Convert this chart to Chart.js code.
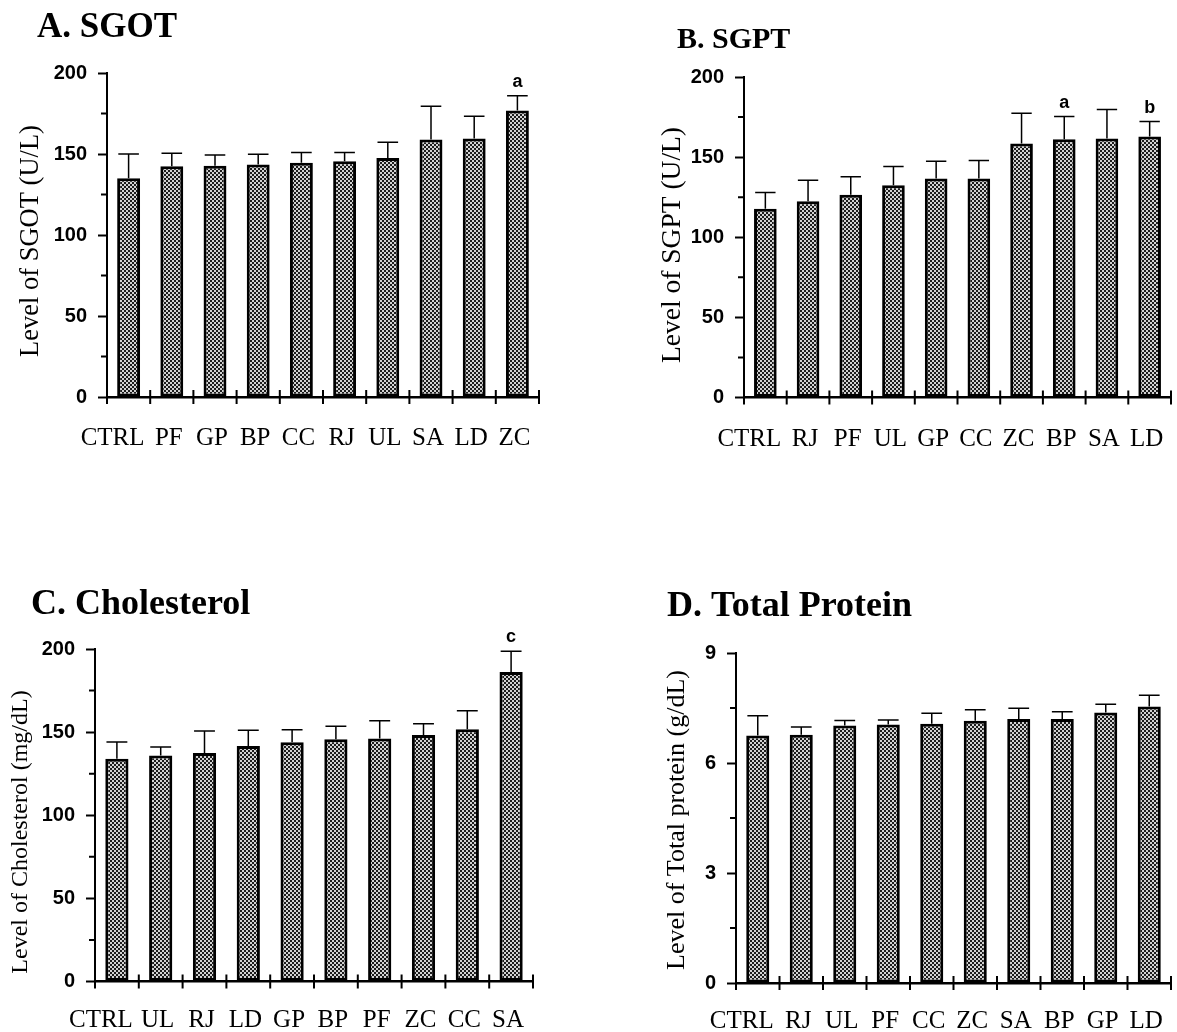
<!DOCTYPE html>
<html lang="en">
<head>
<meta charset="UTF-8">
<title>Serum SGOT, SGPT, Cholesterol and Total Protein</title>
<style>
  html, body { margin: 0; padding: 0; background: #fff; overflow: hidden; }
  .panel { position: absolute; }
</style>
</head>
<body>

<div class="panel" style="left:0;top:0"><canvas id="chartA" width="588" height="480"></canvas></div>
<div class="panel" style="left:588px;top:0"><canvas id="chartB" width="620" height="480"></canvas></div>
<div class="panel" style="left:0;top:500px"><canvas id="chartC" width="588" height="532"></canvas></div>
<div class="panel" style="left:588px;top:500px"><canvas id="chartD" width="620" height="532"></canvas></div>

<script src="https://cdn.jsdelivr.net/npm/chart.js"></script>
<script>
// A. SGOT (U/L)
const sgotLabels = ['CTRL', 'PF', 'GP', 'BP', 'CC', 'RJ', 'UL', 'SA', 'LD', 'ZC'];
const sgotMean   = [135.0, 142.5, 142.8, 143.5, 144.6, 145.5, 147.5, 159.0, 159.5, 176.8];
const sgotSem    = [15.0, 8.0, 6.6, 6.4, 6.4, 5.5, 9.7, 20.4, 13.8, 9.2];
const sgotMarks  = ['', '', '', '', '', '', '', '', '', 'a'];

// B. SGPT (U/L)
const sgptLabels = ['CTRL', 'RJ', 'PF', 'UL', 'GP', 'CC', 'ZC', 'BP', 'SA', 'LD'];
const sgptMean   = [117.8, 122.4, 126.5, 132.5, 136.7, 136.7, 158.5, 161.2, 161.6, 162.8];
const sgptSem    = [10.2, 13.1, 11.2, 11.7, 10.8, 11.2, 18.9, 14.1, 18.1, 9.4];
const sgptMarks  = ['', '', '', '', '', '', '', 'a', '', 'b'];

// C. Cholesterol (mg/dL)
const cholLabels = ['CTRL', 'UL', 'RJ', 'LD', 'GP', 'BP', 'PF', 'ZC', 'CC', 'SA'];
const cholMean   = [134.0, 135.9, 137.5, 141.7, 143.9, 145.7, 146.1, 148.3, 151.7, 186.2];
const cholSem    = [10.1, 5.2, 13.2, 9.4, 7.6, 7.8, 10.8, 6.8, 11.2, 12.4];
const cholMarks  = ['', '', '', '', '', '', '', '', '', 'c'];

// D. Total protein (g/dL)
const protLabels = ['CTRL', 'RJ', 'UL', 'PF', 'CC', 'ZC', 'SA', 'BP', 'GP', 'LD'];
const protMean   = [6.75, 6.77, 7.02, 7.05, 7.07, 7.15, 7.20, 7.20, 7.38, 7.54];
const protSem    = [0.54, 0.21, 0.14, 0.12, 0.29, 0.30, 0.29, 0.20, 0.22, 0.31];
const protMarks  = ['', '', '', '', '', '', '', '', '', ''];

// y axis ticks
const enzymeTicks  = [0, 50, 100, 150, 200];
const enzymeMinor  = [25, 75, 125, 175];
const proteinTicks = [0, 3, 6, 9];
const proteinMinor = [1.5, 4.5, 7.5];

const SERIF = '"Liberation Serif", "Times New Roman", serif';
const SANS = '"Liberation Sans", Arial, sans-serif';

// fine checker fill used for every bar
function checker(ctx) {
  const c = document.createElement('canvas');
  c.width = 4; c.height = 4;
  const g = c.getContext('2d');
  g.fillStyle = '#1c1c1c';
  g.fillRect(0, 0, 4, 4);
  g.fillStyle = '#d2d2d2';
  g.fillRect(0, 0, 2, 2);
  g.fillRect(2, 2, 2, 2);
  return ctx.createPattern(c, 'repeat');
}

// titles, category names, SEM whiskers, letters, minor y ticks, crossing x ticks
const decor = {
  id: 'decor',
  afterDraw(chart, args, opts) {
    const { ctx } = chart;
    const xs = chart.scales.x, ys = chart.scales.y;
    const ds = chart.data.datasets[0];
    const meta = chart.getDatasetMeta(0);
    ctx.save();
    ctx.strokeStyle = '#000';
    ctx.fillStyle = '#000';

    ctx.lineWidth = 1.5;
    meta.data.forEach((bar, i) => {
      const top = ys.getPixelForValue(ds.data[i] + ds.sem[i]);
      const half = bar.width * 0.45;
      ctx.beginPath();
      ctx.moveTo(bar.x, bar.y);
      ctx.lineTo(bar.x, top);
      ctx.moveTo(bar.x - half, top);
      ctx.lineTo(bar.x + half, top);
      ctx.stroke();
      if (ds.marks[i]) {
        ctx.font = 'bold 18px ' + SANS;
        ctx.textAlign = 'center';
        ctx.textBaseline = 'alphabetic';
        ctx.fillText(ds.marks[i], bar.x, top - 9);
      }
    });

    // minor ticks on the value axis
    ctx.lineWidth = 2;
    ctx.beginPath();
    opts.minor.forEach(v => {
      const py = ys.getPixelForValue(v);
      ctx.moveTo(ys.right - 6, py);
      ctx.lineTo(ys.right, py);
    });
    ctx.stroke();

    // category boundary ticks crossing the baseline
    const step = xs.getPixelForValue(1) - xs.getPixelForValue(0);
    const x0 = xs.getPixelForValue(0) - step / 2;
    const y0 = xs.top;
    ctx.beginPath();
    for (let i = 0; i <= chart.data.labels.length; i++) {
      const px = x0 + i * step;
      ctx.moveTo(px, y0 - 7);
      ctx.lineTo(px, y0 + 7);
    }
    ctx.stroke();

    // category names, typed a little left of centre, the first one more so
    ctx.font = '25px ' + SERIF;
    ctx.textAlign = 'center';
    ctx.textBaseline = 'alphabetic';
    chart.data.labels.forEach((name, i) => {
      const nudge = i === 0 ? -16 : -3;
      ctx.fillText(name, xs.getPixelForValue(i) + nudge, y0 + opts.labelGap);
    });

    // value axis title
    ctx.save();
    ctx.translate(opts.yTitleX, opts.yTitleY);
    ctx.rotate(-Math.PI / 2);
    ctx.font = opts.yTitleFont;
    ctx.textAlign = 'center';
    ctx.textBaseline = 'middle';
    ctx.fillText(opts.yTitle, 0, 0);
    ctx.restore();

    // panel heading
    ctx.font = opts.titleFont;
    ctx.textAlign = 'left';
    ctx.textBaseline = 'alphabetic';
    ctx.fillText(opts.title, opts.titleX, opts.titleY);
    ctx.restore();
  }
};

function drawPanel(id, p) {
  const ctx = document.getElementById(id).getContext('2d');
  return new Chart(ctx, {
    type: 'bar',
    data: {
      labels: p.labels,
      datasets: [{
        data: p.mean,
        sem: p.sem,
        marks: p.marks,
        backgroundColor: checker(ctx),
        borderColor: '#000',
        borderWidth: 3,
        borderSkipped: false,
        barPercentage: 0.53,
        categoryPercentage: 1
      }]
    },
    options: {
      responsive: false,
      animation: false,
      events: [],
      layout: { padding: { top: p.top, left: p.padLeft, right: p.padRight, bottom: 0 } },
      plugins: {
        legend: { display: false },
        tooltip: { enabled: false },
        decor: {
          title: p.title, titleFont: p.titleFont, titleX: p.titleX, titleY: p.titleY,
          yTitle: p.yTitle, yTitleFont: p.yTitleFont, yTitleX: p.yTitleX, yTitleY: p.yTitleY,
          labelGap: p.labelGap, minor: p.minor
        }
      },
      scales: {
        x: {
          grid: { display: false, drawTicks: false },
          border: { display: true, color: '#000', width: 2.5 },
          ticks: { display: false },
          afterFit(s) { s.height = p.xHeight; }
        },
        y: {
          min: 0, max: p.ticks[p.ticks.length - 1],
          afterBuildTicks(s) { s.ticks = p.ticks.map(v => ({ value: v })); },
          ticks: { color: '#000', padding: 11, font: { family: SANS, size: 20, weight: 'bold' } },
          grid: { drawOnChartArea: false, drawTicks: true, tickLength: 9, tickWidth: 2, tickColor: '#000' },
          border: { display: true, color: '#000', width: 2 },
          afterFit(s) { s.width = p.yWidth; }
        }
      }
    },
    plugins: [decor]
  });
}

drawPanel('chartA', {
  labels: sgotLabels, mean: sgotMean, sem: sgotSem, marks: sgotMarks,
  ticks: enzymeTicks, minor: enzymeMinor,
  title: 'A. SGOT', titleFont: 'bold 35px ' + SERIF, titleX: 37, titleY: 37,
  yTitle: 'Level of SGOT (U/L)', yTitleFont: '26.5px ' + SERIF, yTitleX: 31, yTitleY: 241,
  top: 73, padLeft: 14, yWidth: 93, padRight: 49, xHeight: 83, labelGap: 48
});

drawPanel('chartB', {
  labels: sgptLabels, mean: sgptMean, sem: sgptSem, marks: sgptMarks,
  ticks: enzymeTicks, minor: enzymeMinor,
  title: 'B. SGPT', titleFont: 'bold 30px ' + SERIF, titleX: 89, titleY: 48,
  yTitle: 'Level of SGPT (U/L)', yTitleFont: '27.5px ' + SERIF, yTitleX: 85, yTitleY: 245,
  top: 77, padLeft: 69, yWidth: 87, padRight: 37, xHeight: 82.5, labelGap: 48
});

drawPanel('chartC', {
  labels: cholLabels, mean: cholMean, sem: cholSem, marks: cholMarks,
  ticks: enzymeTicks, minor: enzymeMinor,
  title: 'C. Cholesterol', titleFont: 'bold 36px ' + SERIF, titleX: 31, titleY: 114,
  yTitle: 'Level of Cholesterol (mg/dL)', yTitleFont: '24px ' + SERIF, yTitleX: 21, yTitleY: 332,
  top: 149, padLeft: 5, yWidth: 90, padRight: 55, xHeight: 50.5, labelGap: 45
});

drawPanel('chartD', {
  labels: protLabels, mean: protMean, sem: protSem, marks: protMarks,
  ticks: proteinTicks, minor: proteinMinor,
  title: 'D. Total Protein', titleFont: 'bold 36px ' + SERIF, titleX: 79, titleY: 116,
  yTitle: 'Level of Total protein (g/dL)', yTitleFont: '26px ' + SERIF, yTitleX: 89, yTitleY: 320,
  top: 153, padLeft: 73, yWidth: 75, padRight: 37, xHeight: 49, labelGap: 45
});
</script>
</body>
</html>
